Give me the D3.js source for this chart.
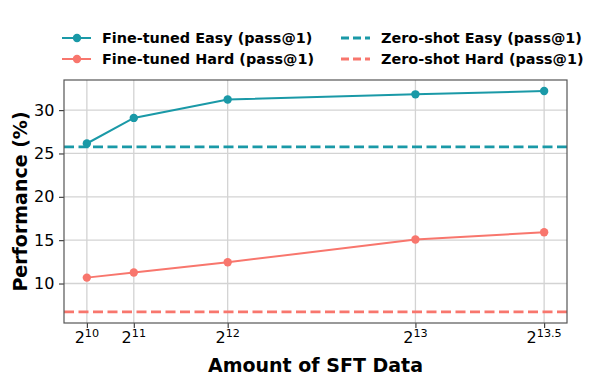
<!DOCTYPE html>
<html>
<head>
<meta charset="utf-8">
<script src="https://cdn.jsdelivr.net/npm/d3@7"></script>
<style>
  body { margin: 0; background: #fff; }
  svg { font-family: "DejaVu Sans", sans-serif; }
</style>
</head>
<body>
<div id="chart"></div>
<script>
// data
var sizes = [1024, 2048, 4096, 8192, 11000];
var expLabels = ["10", "11", "12", "13", "13.5"];
var easyFT = [26.15, 29.1, 31.22, 31.82, 32.2];
var hardFT = [10.68, 11.27, 12.45, 15.07, 15.92];
var easyZS = 25.77;
var hardZS = 6.72;
var yTicks = [10, 15, 20, 25, 30];

var colEasy = "#1a99a7";
var colHard = "#f8766d";

var W = 598, H = 385;
var margin = {left: 64, right: 31, top: 80, bottom: 62};
var width = W - margin.left - margin.right;
var height = H - margin.top - margin.bottom;

var svg = d3.select("#chart").append("svg")
    .attr("width", W)
    .attr("height", H);

// matplotlib-like 5% padding
var xr = d3.extent(sizes);
var xpad = (xr[1] - xr[0]) * 0.05;
var allY = easyFT.concat(hardFT, [easyZS, hardZS]);
var yr = d3.extent(allY);
var ypad = (yr[1] - yr[0]) * 0.05;

var x = d3.scaleLinear()
    .domain([xr[0] - xpad, xr[1] + xpad])
    .range([0, width]);

var y = d3.scaleLinear()
    .domain([yr[0] - ypad, yr[1] + ypad])
    .range([height, 0]);

var g = svg.append("g")
    .attr("transform", "translate(" + margin.left + "," + margin.top + ")");

// grid
g.append("g").selectAll("line").data(sizes).enter().append("line")
    .attr("x1", function(d) { return x(d); })
    .attr("x2", function(d) { return x(d); })
    .attr("y1", 0).attr("y2", height)
    .attr("stroke", "#d3d3d3").attr("stroke-width", 1.3);

g.append("g").selectAll("line").data(yTicks).enter().append("line")
    .attr("y1", function(d) { return y(d); })
    .attr("y2", function(d) { return y(d); })
    .attr("x1", 0).attr("x2", width)
    .attr("stroke", "#d3d3d3").attr("stroke-width", 1.3);

// y axis
var yAxis = g.append("g")
    .call(d3.axisLeft(y).tickValues(yTicks).tickSize(5).tickPadding(4.7));
yAxis.select(".domain").remove();
yAxis.selectAll("line").attr("stroke", "#333").attr("stroke-width", 1.1);
yAxis.selectAll("text").attr("font-size", 16).attr("fill", "#000")
    .attr("font-family", "DejaVu Sans");

// x axis with power-of-two labels
var xAxis = g.append("g")
    .attr("transform", "translate(0," + height + ")")
    .call(d3.axisBottom(x).tickValues(sizes).tickSize(5).tickFormat(""));
xAxis.select(".domain").remove();
xAxis.selectAll("line").attr("stroke", "#333").attr("stroke-width", 1.1);

var xl = g.append("g").selectAll("text").data(sizes).enter().append("text")
    .attr("x", function(d) { return x(d); })
    .attr("y", height + 20)
    .attr("text-anchor", "middle")
    .attr("font-size", 16)
    .attr("fill", "#000");
xl.append("tspan").text("2");
xl.append("tspan")
    .attr("dy", -6)
    .attr("font-size", 11.2)
    .text(function(d, i) { return expLabels[i]; });

// zero-shot dashed lines
[[easyZS, colEasy], [hardZS, colHard]].forEach(function(z) {
    g.append("line")
        .attr("x1", 0).attr("x2", width)
        .attr("y1", y(z[0])).attr("y2", y(z[0]))
        .attr("stroke", z[1])
        .attr("stroke-width", 2.8)
        .attr("stroke-dasharray", "10,4.5");
});

// fine-tuned lines
var line = d3.line()
    .x(function(d, i) { return x(sizes[i]); })
    .y(function(d) { return y(d); });

[[easyFT, colEasy], [hardFT, colHard]].forEach(function(s) {
    g.append("path")
        .datum(s[0])
        .attr("fill", "none")
        .attr("stroke", s[1])
        .attr("stroke-width", 2)
        .attr("d", line);
    g.append("g").selectAll("circle").data(s[0]).enter().append("circle")
        .attr("cx", function(d, i) { return x(sizes[i]); })
        .attr("cy", function(d) { return y(d); })
        .attr("r", 4.2)
        .attr("fill", s[1]);
});

// frame
g.append("rect")
    .attr("width", width).attr("height", height)
    .attr("fill", "none")
    .attr("stroke", "#555").attr("stroke-width", 1.2);

// axis titles
svg.append("text")
    .attr("x", margin.left + width / 2)
    .attr("y", 372)
    .attr("text-anchor", "middle")
    .attr("font-size", 19)
    .attr("font-weight", "bold")
    .text("Amount of SFT Data");

svg.append("text")
    .attr("transform", "translate(27," + (margin.top + height / 2) + ") rotate(-90)")
    .attr("text-anchor", "middle")
    .attr("font-size", 19)
    .attr("font-weight", "bold")
    .text("Performance (%)");

// legend
var legendItems = [
    {label: "Fine-tuned Easy (pass@1)", color: colEasy, dash: false, col: 0, row: 0},
    {label: "Fine-tuned Hard (pass@1)", color: colHard, dash: false, col: 0, row: 1},
    {label: "Zero-shot Easy (pass@1)", color: colEasy, dash: true, col: 1, row: 0},
    {label: "Zero-shot Hard (pass@1)", color: colHard, dash: true, col: 1, row: 1}
];
var colX = [62, 341];
var rowY = [38, 59];

var leg = svg.append("g").selectAll("g").data(legendItems).enter().append("g")
    .attr("transform", function(d) { return "translate(" + colX[d.col] + "," + rowY[d.row] + ")"; });

leg.append("line")
    .attr("x1", 0).attr("x2", 29)
    .attr("stroke", function(d) { return d.color; })
    .attr("stroke-width", function(d) { return d.dash ? 2.8 : 2; })
    .attr("stroke-dasharray", function(d) { return d.dash ? "8,4" : null; });

leg.filter(function(d) { return !d.dash; }).append("circle")
    .attr("cx", 15).attr("r", 4.2)
    .attr("fill", function(d) { return d.color; });

leg.append("text")
    .attr("x", 40)
    .attr("dy", "0.35em")
    .attr("font-size", 14.4)
    .attr("font-weight", "bold")
    .text(function(d) { return d.label; });
</script>
</body>
</html>
